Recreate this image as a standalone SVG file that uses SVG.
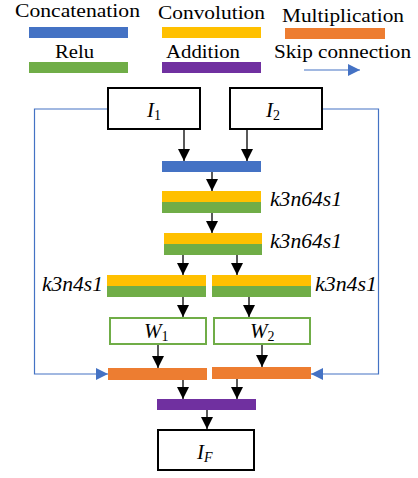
<svg xmlns="http://www.w3.org/2000/svg" width="418" height="478" viewBox="0 0 418 478">
  <style>
    .legend { font-size: 19px; fill: #000; }
    .param { font-style: italic; font-size: 20px; fill: #000; }
    .math { font-size: 21px; fill: #000; }
    .v { font-style: italic; }
    .sub { font-size: 14px; }
    .box { fill: #fff; stroke: #000; stroke-width: 2; }
    .wbox { fill: #fff; stroke: #70AD47; stroke-width: 2; }
    .cat { fill: #4472C4; }
    .conv { fill: #FFC000; }
    .mul { fill: #ED7D31; }
    .relu { fill: #70AD47; }
    .add { fill: #7030A0; }
    .flow { fill: none; stroke: #000; stroke-width: 1.3; marker-end: url(#arrow); }
    .skip { fill: none; stroke: #4472C4; stroke-width: 1.2; marker-end: url(#arrowBlue); }
  </style>
  <defs>
    <marker id="arrow" markerUnits="userSpaceOnUse" markerWidth="12" markerHeight="12" refX="12" refY="6" orient="auto">
      <path d="M0,0 L12,6 L0,12 z" fill="#000"/>
    </marker>
    <marker id="arrowBlue" markerUnits="userSpaceOnUse" markerWidth="12" markerHeight="12" refX="12" refY="6" orient="auto">
      <path d="M0,0 L12,6 L0,12 z" fill="#4472C4"/>
    </marker>
  </defs>

  <rect width="418" height="478" fill="#fff"/>

  <!-- legend -->
  <g id="legend">
    <text class="legend" font-family="Liberation Serif" x="15" y="17" textLength="125" lengthAdjust="spacingAndGlyphs">Concatenation</text>
    <rect class="cat" x="29" y="27" width="99" height="11"/>
    <text class="legend" font-family="Liberation Serif" x="158" y="19" textLength="107" lengthAdjust="spacingAndGlyphs">Convolution</text>
    <rect class="conv" x="162" y="27" width="99" height="11"/>
    <text class="legend" font-family="Liberation Serif" x="282" y="22" textLength="122" lengthAdjust="spacingAndGlyphs">Multiplication</text>
    <rect class="mul" x="285" y="28" width="100" height="11"/>
    <text class="legend" font-family="Liberation Serif" x="55" y="58" textLength="39" lengthAdjust="spacingAndGlyphs">Relu</text>
    <rect class="relu" x="29" y="62" width="99" height="11"/>
    <text class="legend" font-family="Liberation Serif" x="166" y="58" textLength="74" lengthAdjust="spacingAndGlyphs">Addition</text>
    <rect class="add" x="162" y="62" width="99" height="11"/>
    <text class="legend" font-family="Liberation Serif" x="274" y="58" textLength="137" lengthAdjust="spacingAndGlyphs">Skip connection</text>
    <line class="skip" x1="304" y1="70" x2="360" y2="70"/>
  </g>

  <!-- inputs -->
  <g id="input1">
    <rect class="box" x="108" y="88" width="92" height="41"/>
    <text class="math" font-family="Liberation Serif" x="147" y="117"><tspan class="v">I</tspan><tspan class="sub" dy="3">1</tspan></text>
  </g>
  <g id="input2">
    <rect class="box" x="230" y="88" width="92" height="41"/>
    <text class="math" font-family="Liberation Serif" x="266" y="117"><tspan class="v">I</tspan><tspan class="sub" dy="3">2</tspan></text>
  </g>

  <!-- concatenation -->
  <g id="concat">
    <rect class="cat" x="162" y="161" width="99" height="11"/>
  </g>

  <!-- conv + relu blocks -->
  <g id="conv1">
    <rect class="conv" x="162" y="191" width="99" height="11"/>
    <rect class="relu" x="162" y="202" width="99" height="11"/>
    <text class="param" font-family="Liberation Serif" x="270" y="206" textLength="72" lengthAdjust="spacingAndGlyphs">k3n64s1</text>
  </g>
  <g id="conv2">
    <rect class="conv" x="164" y="233" width="98" height="11"/>
    <rect class="relu" x="164" y="244" width="98" height="11"/>
    <text class="param" font-family="Liberation Serif" x="270" y="248" textLength="72" lengthAdjust="spacingAndGlyphs">k3n64s1</text>
  </g>
  <g id="conv3a">
    <rect class="conv" x="107" y="275" width="99" height="11"/>
    <rect class="relu" x="107" y="286" width="99" height="11"/>
    <text class="param" font-family="Liberation Serif" x="42" y="291" textLength="61" lengthAdjust="spacingAndGlyphs">k3n4s1</text>
  </g>
  <g id="conv3b">
    <rect class="conv" x="212" y="275" width="99" height="11"/>
    <rect class="relu" x="212" y="286" width="99" height="11"/>
    <text class="param" font-family="Liberation Serif" x="315" y="291" textLength="62" lengthAdjust="spacingAndGlyphs">k3n4s1</text>
  </g>

  <!-- weight maps -->
  <g id="w1">
    <rect class="wbox" x="110" y="318" width="96" height="26"/>
    <text class="math" font-family="Liberation Serif" x="144" y="338"><tspan class="v">W</tspan><tspan class="sub" dy="3">1</tspan></text>
  </g>
  <g id="w2">
    <rect class="wbox" x="214" y="318" width="96" height="26"/>
    <text class="math" font-family="Liberation Serif" x="250" y="338"><tspan class="v">W</tspan><tspan class="sub" dy="3">2</tspan></text>
  </g>

  <!-- multiplication -->
  <g id="mul1">
    <rect class="mul" x="108" y="368" width="99" height="12"/>
  </g>
  <g id="mul2">
    <rect class="mul" x="212" y="367" width="99" height="12"/>
  </g>

  <!-- addition -->
  <g id="add">
    <rect class="add" x="157" y="399" width="99" height="11"/>
  </g>

  <!-- output -->
  <g id="output">
    <rect class="box" x="158" y="430" width="96" height="40"/>
    <text class="math" font-family="Liberation Serif" x="197" y="459"><tspan class="v">I</tspan><tspan class="sub v" dy="3">F</tspan></text>
  </g>

  <!-- connectors -->
  <g id="connectors">
    <line class="flow" x1="184" y1="130" x2="184" y2="161"/>
    <line class="flow" x1="247" y1="130" x2="247" y2="161"/>
    <line class="flow" x1="212" y1="172" x2="212" y2="191"/>
    <line class="flow" x1="212" y1="213" x2="212" y2="233"/>
    <line class="flow" x1="183" y1="255" x2="183" y2="275"/>
    <line class="flow" x1="237" y1="255" x2="237" y2="275"/>
    <line class="flow" x1="183" y1="297" x2="183" y2="317"/>
    <line class="flow" x1="249" y1="297" x2="249" y2="317"/>
    <line class="flow" x1="158" y1="345" x2="158" y2="368"/>
    <line class="flow" x1="262" y1="345" x2="262" y2="367"/>
    <line class="flow" x1="183" y1="380" x2="183" y2="399"/>
    <line class="flow" x1="237" y1="379" x2="237" y2="399"/>
    <line class="flow" x1="207" y1="410" x2="207" y2="429"/>
    <polyline class="skip" points="107,109 34.5,109 34.5,374 108,374"/>
    <polyline class="skip" points="323,109 378.5,109 378.5,374 311,374"/>
  </g>
</svg>
